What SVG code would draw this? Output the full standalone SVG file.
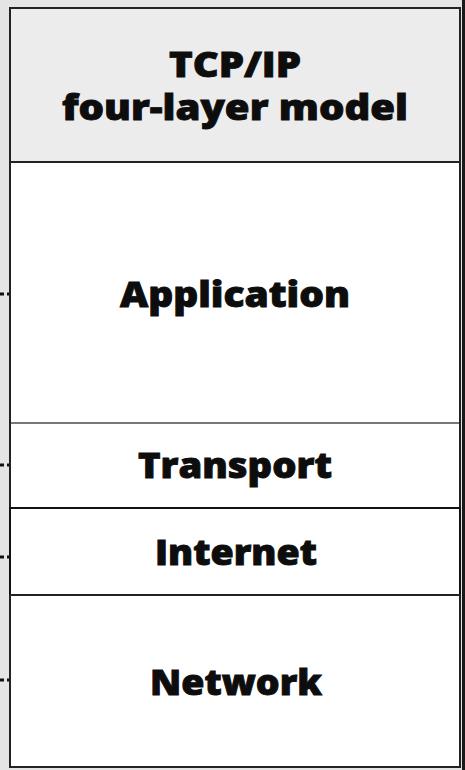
<svg xmlns="http://www.w3.org/2000/svg" width="465" height="770" viewBox="0 0 465 770">
<style>
.lbl{font-family:"Open Sans",Inter,"Liberation Sans",sans-serif;font-weight:800;fill:#0d0d0d;stroke:#0d0d0d;stroke-width:0.9;text-anchor:middle;font-size:35px}
.conn{stroke:#111;stroke-width:3;stroke-dasharray:4 3;fill:none}
</style>
<rect x="0" y="0" width="465" height="770" fill="#e4e4e4"/>
<rect x="462" y="0" width="3" height="770" fill="#1a1a1a"/>
<g id="connectors">
<line class="conn" x1="0" y1="294" x2="10" y2="294"/>
<line class="conn" x1="0" y1="465" x2="10" y2="465"/>
<line class="conn" x1="0" y1="557" x2="10" y2="557"/>
<line class="conn" x1="0" y1="680" x2="10" y2="680"/>
</g>
<g id="header">
<rect x="10" y="8" width="450" height="154" fill="#ececec" stroke="#222" stroke-width="2"/>
<text class="lbl" x="235" y="77" textLength="132" lengthAdjust="spacingAndGlyphs">TCP/IP</text>
<text class="lbl" x="235" y="120" textLength="346" lengthAdjust="spacingAndGlyphs">four-layer model</text>
</g>
<g id="application">
<rect x="10" y="162" width="450" height="261" fill="#ffffff" stroke="#222" stroke-width="2"/>
<text class="lbl" x="235" y="307" textLength="230" lengthAdjust="spacingAndGlyphs">Application</text>
</g>
<g id="transport">
<rect x="10" y="423" width="450" height="85" fill="#ffffff" stroke="#222" stroke-width="2"/>
<line x1="11" y1="423" x2="459" y2="423" stroke="#777" stroke-width="2"/>
<text class="lbl" x="235" y="478" textLength="194" lengthAdjust="spacingAndGlyphs">Transport</text>
</g>
<g id="internet">
<rect x="10" y="508" width="450" height="87" fill="#ffffff" stroke="#111" stroke-width="2"/>
<text class="lbl" x="236" y="565" textLength="162" lengthAdjust="spacingAndGlyphs">Internet</text>
</g>
<g id="network">
<rect x="10" y="595" width="450" height="172" fill="#ffffff" stroke="#222" stroke-width="2"/>
<text class="lbl" x="236" y="695" textLength="172" lengthAdjust="spacingAndGlyphs">Network</text>
</g>
</svg>
